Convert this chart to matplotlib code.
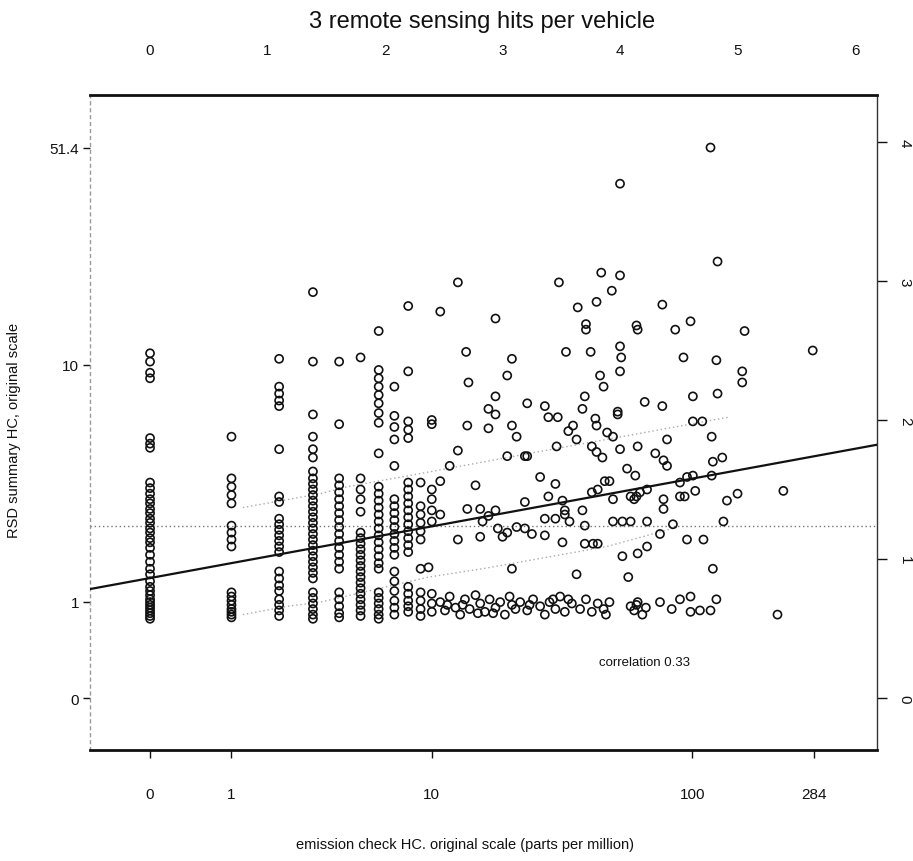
import numpy as np
import matplotlib
matplotlib.use("Agg")
import matplotlib.pyplot as plt
from matplotlib import font_manager

fams = {f.name for f in font_manager.fontManager.ttflist}
narrow = 'Liberation Sans Narrow' if 'Liberation Sans Narrow' in fams else 'Liberation Sans'
plt.rcParams['font.family'] = [narrow, 'DejaVu Sans']

# ---------------- data ----------------
# columns of vehicles with small integer emission-check HC (ppm); y = log(1 + RSD HC)
column_ppm = [0, 1, 2, 3, 4, 5, 6, 7, 8, 9, 10]
column_rsd_log = [
    [2.48, 2.42, 2.34, 2.30, 1.87, 1.83, 1.80, 1.55, 1.51, 1.47, 1.43, 1.40, 1.36, 1.33, 1.29,
     1.26, 1.22, 1.19, 1.15, 1.12, 1.08, 1.03, 0.98, 0.93, 0.89, 0.84, 0.80, 0.77, 0.74, 0.71,
     0.69, 0.67, 0.65, 0.63, 0.61, 0.59, 0.57],
    [1.88, 1.58, 1.52, 1.46, 1.40, 1.24, 1.19, 1.14, 1.09, 0.76, 0.73, 0.70, 0.67, 0.64, 0.62,
     0.60, 0.58],
    [2.44, 2.24, 2.19, 2.14, 2.10, 1.79, 1.45, 1.41, 1.29, 1.25, 1.21, 1.17, 1.13, 1.09, 1.05,
     0.91, 0.86, 0.81, 0.77, 0.71, 0.67, 0.63, 0.59],
    [2.92, 2.42, 2.04, 1.88, 1.79, 1.73, 1.63, 1.58, 1.54, 1.50, 1.46, 1.42, 1.38, 1.34, 1.30,
     1.26, 1.22, 1.18, 1.14, 1.10, 1.06, 1.02, 0.98, 0.94, 0.90, 0.86, 0.76, 0.72, 0.68, 0.64,
     0.60, 0.57],
    [2.42, 1.97, 1.58, 1.53, 1.48, 1.43, 1.38, 1.33, 1.28, 1.23, 1.18, 1.13, 1.08, 1.03, 0.98,
     0.93, 0.76, 0.71, 0.66, 0.61, 0.58],
    [2.45, 1.58, 1.50, 1.43, 1.34, 1.19, 1.15, 1.11, 1.07, 1.03, 0.99, 0.95, 0.91, 0.87, 0.83,
     0.79, 0.75, 0.71, 0.67, 0.63, 0.59],
    [2.64, 2.36, 2.30, 2.24, 2.18, 2.12, 2.05, 1.98, 1.76, 1.52, 1.47, 1.42, 1.37, 1.32, 1.27,
     1.22, 1.17, 1.12, 1.07, 1.02, 0.97, 0.93, 0.76, 0.72, 0.68, 0.64, 0.60, 0.57],
    [2.24, 2.03, 1.95, 1.86, 1.67, 1.43, 1.38, 1.33, 1.28, 1.23, 1.18, 1.13, 1.08, 1.03, 0.91,
     0.84, 0.77, 0.70, 0.65, 0.60],
    [2.82, 2.35, 1.99, 1.93, 1.87, 1.55, 1.50, 1.45, 1.40, 1.35, 1.30, 1.25, 1.20, 1.15, 1.10,
     1.05, 0.80, 0.75, 0.70, 0.66, 0.62],
    [1.55, 1.38, 1.32, 1.26, 1.20, 1.14, 0.93, 0.76, 0.70, 0.64, 0.59],
    [2.00, 1.97, 1.50, 1.43, 1.35, 1.27, 0.75, 0.68, 0.62],
]

# remaining vehicles: x = log(1 + emission check HC), y = log(1 + RSD HC)
scatter_hc_log = [
    4.77, 4.00, 4.83, 2.62, 3.48, 3.84, 4.00, 3.93, 3.80, 3.64, 2.47, 2.94, 4.36, 3.71, 3.71,
    4.14, 4.15, 4.47, 4.60, 5.06,
    2.69, 3.08, 3.54, 3.75, 4.00, 4.01, 4.00, 4.54, 4.82, 5.04, 5.04, 5.64, 3.04, 2.71, 3.83, 3.86,
    4.62, 4.83, 4.21, 4.36, 2.94, 2.88, 2.94, 3.21, 3.36, 3.70, 3.68, 3.98, 3.98, 3.39, 3.47,
    3.60, 3.56, 3.79, 3.80, 4.62, 4.70, 4.78, 2.70, 2.88, 3.08, 3.12, 3.89, 3.94, 3.63, 4.40,
    3.46, 3.76, 3.80, 3.85, 4.00, 4.15, 4.30, 4.37, 4.40, 3.04, 3.19, 3.21, 2.62, 2.55, 2.47,
    2.77, 3.32, 3.45, 3.39, 3.51, 3.53, 3.19, 3.76, 3.81, 3.87, 3.91, 3.94, 4.06, 4.13, 4.09,
    4.14, 4.17, 4.12, 4.23, 4.37, 4.37, 4.51, 4.57, 4.62, 4.64, 4.51, 4.55, 4.79, 4.87, 4.78,
    4.91, 5.00, 5.39, 4.88,
    2.47, 2.62, 2.70, 2.81, 2.83, 2.94, 2.88, 2.81, 2.96, 3.04, 3.12, 3.19, 3.25, 3.00, 3.36,
    3.36, 3.45, 3.53, 3.57, 3.68, 3.70, 3.51, 3.70, 3.77, 3.81, 3.94, 4.02, 4.09, 4.23, 4.34,
    4.45, 4.57, 4.71, 4.02, 4.15, 4.23, 2.37, 3.08, 3.63, 4.07, 4.79,
    2.47, 2.51, 2.55, 2.60, 2.64, 2.68, 2.72, 2.77, 2.81, 2.85, 2.89, 2.94, 2.98, 3.02, 3.06,
    3.11, 3.15, 3.21, 3.26, 3.32, 3.36, 3.40, 3.45, 3.49, 3.53, 3.59, 3.66, 3.71, 3.76, 3.81,
    3.86, 3.91, 4.09, 4.12, 4.15, 4.19, 4.22, 4.34, 4.44, 4.51, 4.60, 4.60, 4.68, 4.77, 4.82,
    5.34, 2.53, 2.66, 2.79, 2.92, 3.08, 3.23, 3.43, 3.56, 3.88, 4.14,
]
scatter_rsd_log = [
    3.96, 3.70, 3.14, 2.99, 2.99, 3.06, 3.04, 2.93, 2.85, 2.81, 2.78, 2.73, 2.83, 2.69, 2.65,
    2.68, 2.65, 2.65, 2.71, 2.64,
    2.49, 2.44, 2.49, 2.49, 2.53, 2.45, 2.35, 2.45, 2.43, 2.35, 2.27, 2.50, 2.32, 2.27, 2.32, 2.24,
    2.17, 2.19, 2.13, 2.10, 2.17, 2.08, 2.04, 2.12, 2.10, 2.17, 2.08, 2.06, 2.04, 2.02, 2.02,
    1.96, 1.92, 2.01, 1.96, 1.99, 1.99, 1.88, 1.96, 1.94, 1.96, 1.88, 1.91, 1.88, 1.86, 1.86,
    1.81, 1.81, 1.77, 1.73, 1.79, 1.81, 1.76, 1.71, 1.67, 1.74, 1.74, 1.74, 1.78, 1.67, 1.56,
    1.53, 1.59, 1.54, 1.45, 1.42, 1.35, 1.41, 1.48, 1.50, 1.56, 1.56, 1.43, 1.65, 1.60, 1.45,
    1.45, 1.48, 1.43, 1.50, 1.43, 1.36, 1.55, 1.59, 1.60, 1.49, 1.45, 1.45, 1.70, 1.73, 1.60,
    1.42, 1.47, 1.49, 1.27,
    1.32, 1.14, 1.36, 1.36, 1.27, 1.35, 1.31, 1.16, 1.22, 1.19, 1.23, 1.22, 1.18, 1.16, 1.17,
    1.29, 1.29, 1.32, 1.27, 1.35, 1.24, 1.12, 1.11, 1.11, 1.11, 1.27, 1.27, 1.27, 1.27, 1.18,
    1.25, 1.14, 1.14, 1.02, 1.04, 1.09, 0.94, 0.93, 0.89, 0.87, 0.93,
    0.69, 0.63, 0.73, 0.65, 0.60, 0.71, 0.64, 0.74, 0.68, 0.62, 0.71, 0.65, 0.69, 0.60, 0.73,
    0.64, 0.69, 0.63, 0.71, 0.66, 0.60, 0.69, 0.64, 0.73, 0.62, 0.68, 0.64, 0.71, 0.62, 0.68,
    0.64, 0.69, 0.66, 0.63, 0.69, 0.60, 0.65, 0.69, 0.64, 0.71, 0.73, 0.62, 0.63, 0.63, 0.71,
    0.60, 0.67, 0.67, 0.61, 0.61, 0.67, 0.67, 0.71, 0.71, 0.60, 0.67,
]

# fitted line, overall mean and quartile guide curves (log scale units)
fit_intercept = 0.863
fit_slope = 0.155
mean_rsd_log = 1.24
upper_q_x = [0.79, 1.45, 1.68, 2.40, 3.36, 4.21, 4.92]
upper_q_y = [1.37, 1.47, 1.52, 1.63, 1.78, 1.91, 2.02]
lower_q_x = [0.79, 1.17, 1.45, 2.37, 2.83, 3.89, 4.49]
lower_q_y = [0.60, 0.66, 0.69, 0.87, 0.93, 1.09, 1.23]
correlation = 0.33

bottom_ticks_ppm = [0, 1, 10, 100, 284]
left_ticks_rsd = [0, 1, 10, 51.4]
left_tick_labels = ["0", "1", "10", "51.4"]
top_ticks = [0, 1, 2, 3, 4, 5, 6]
right_ticks = [0, 1, 2, 3, 4]

title = "3 remote sensing hits per vehicle"
xlabel = "emission check HC. original scale (parts per million)"
ylabel = "RSD summary HC, original scale"

# ---------------- figure ----------------
W, H = 913, 862
fig = plt.figure(figsize=(W / 100, H / 100), dpi=100)
ax = fig.add_axes([90 / W, 1 - 751 / H, 787 / W, 655 / H])
xlim = (-0.511, 6.187)
ylim = (-0.374, 4.338)
ax.set_xlim(*xlim)
ax.set_ylim(*ylim)

# points
xs, ys = [], []
for ppm, col in zip(column_ppm, column_rsd_log):
    xs.extend([np.log1p(ppm)] * len(col))
    ys.extend(col)
xs.extend(scatter_hc_log)
ys.extend(scatter_rsd_log)
ax.scatter(xs, ys, s=34, facecolors='none', edgecolors='#111111', linewidths=1.2, zorder=3)

# guides
ax.axhline(mean_rsd_log, color='#777777', lw=1.0, ls=(0, (1, 2)), zorder=1)
ax.plot(upper_q_x, upper_q_y, color='#aaaaaa', lw=1.0, ls=(0, (1, 2)), zorder=1)
ax.plot(lower_q_x, lower_q_y, color='#aaaaaa', lw=1.0, ls=(0, (1, 2)), zorder=1)
lx = np.array(xlim)
ax.plot(lx, fit_intercept + fit_slope * lx, color='#111111', lw=1.6, zorder=4)

ax.text(np.log(1 + 66), 0.26, f"correlation {correlation:.2f}", ha='center', va='center',
        fontsize=9.5, color='#111111')

# spines
for side in ['top', 'bottom']:
    ax.spines[side].set_linewidth(2.0)
    ax.spines[side].set_color('#111111')
ax.spines['right'].set_linewidth(1.0)
ax.spines['right'].set_color('#333333')
ax.spines['left'].set_linewidth(1.0)
ax.spines['left'].set_color('#999999')
ax.spines['left'].set_linestyle((0, (2, 3)))

# bottom & left axes
ax.set_xticks(np.log1p(bottom_ticks_ppm))
ax.set_xticklabels([str(v) for v in bottom_ticks_ppm])
ax.set_yticks(np.log1p(left_ticks_rsd))
ax.set_yticklabels(left_tick_labels)
ax.tick_params(axis='x', direction='out', length=6, width=1, pad=21, labelsize=11,
               colors='#111111')
ax.tick_params(axis='y', direction='out', length=5, width=1, pad=3, labelsize=11,
               colors='#111111')

# top axis
top = ax.secondary_xaxis('top', functions=(lambda v: v, lambda v: v))
top.set_xticks(top_ticks)
top.tick_params(length=0, pad=27, labelsize=11, colors='#111111')
top.spines['top'].set_visible(False)

# right axis
right = ax.secondary_yaxis('right', functions=(lambda v: v, lambda v: v))
right.set_yticks(right_ticks)
right.tick_params(direction='out', length=7, width=1, pad=8, labelsize=11, colors='#111111')
for lab in right.get_yticklabels():
    lab.set_rotation(-90)
    lab.set_va('center')
    lab.set_ha('left')
right.spines['right'].set_visible(False)

fig.text(482 / W, 1 - 22 / H, title, ha='center', va='center', fontsize=17, color='#111111')
fig.text(465 / W, 1 - 845 / H, xlabel, ha='center', va='center', fontsize=10.5, color='#111111')
fig.text(14 / W, 1 - 430 / H, ylabel, ha='center', va='center', rotation=90, fontsize=10.5,
         color='#111111')

fig.savefig("out.png", dpi=100)
